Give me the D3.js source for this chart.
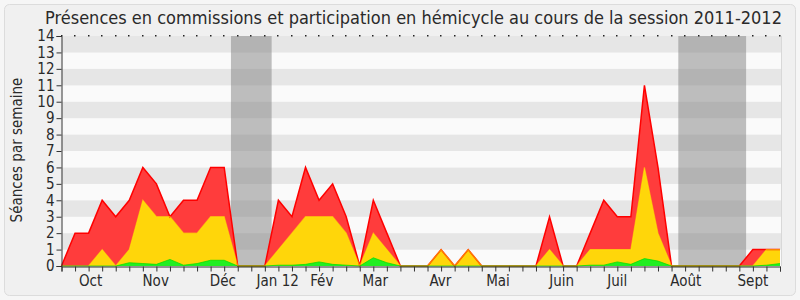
<!DOCTYPE html>
<html><head><meta charset="utf-8">
<script src="https://cdn.jsdelivr.net/npm/d3@7"></script>
<style>
body{margin:0;background:#fff;}
text{font-family:"DejaVu Sans Condensed","DejaVu Sans",sans-serif;fill:#2a2a2a;}
</style></head>
<body><svg id="c" width="800" height="300"></svg>
<script>
const title = "Présences en commissions et participation en hémicycle au cours de la session 2011-2012";
const yLabel = "Séances par semaine";
const weeks = d3.range(54);
const total  = [0,2,2,4,3,4,6,5,3,4,4,6,6,0,0,0,4,3,6,4,5,3,0,4,2,0,0,0,1,0,1,0,0,0,0,0,3,0,0,2,4,3,3,11,6,0,0,0,0,0,0,1,1,1];
const yellow = [0,0,0,1,0,1,4,3,3,2,2,3,3,0,0,0,1,2,3,3,3,2,0,2,1,0,0,0,1,0,1,0,0,0,0,0,1,0,0,1,1,1,1,6,2,0,0,0,0,0,0,0,1,1];
const green  = [0,0,0,0,0,0.2,0.15,0.1,0.4,0.05,0.15,0.35,0.35,0,0,0,0.05,0.05,0.1,0.25,0.1,0.05,0,0.5,0.2,0,0,0,0,0,0,0,0,0,0,0,0,0,0,0.05,0.05,0.25,0.1,0.45,0.3,0,0,0,0,0,0,0,0.05,0.15];
const monthNames = ["Oct","Nov","Déc","Jan 12","Fév","Mar","Avr","Mai","Juin","Juil","Août","Sept"];
const monthPos   = [2.15,6.95,11.9,15.95,19.2,23.15,27.95,32.2,36.9,41.0,46.05,51.0];
const vacations  = [[12.5,15.5],[45.5,50.5]];
const yTicks = d3.range(0,15);

const svg = d3.select("#c");
svg.append("rect").attr("x",0).attr("y",0).attr("width",800).attr("height",300).attr("fill","#f6f6f6");
svg.append("rect").attr("x",4.5).attr("y",4.5).attr("width",791).attr("height",291).attr("rx",5)
  .attr("fill","#f0f0f0").attr("stroke","#dcdcdc");

const x = d3.scaleLinear().domain([0,53]).range([61.5,780]);
const y = d3.scaleLinear().domain([0,14]).range([266,36]);

const g = svg.append("g");
g.selectAll("rect.s").data(d3.range(14)).enter().append("rect")
  .attr("x",x(0)).attr("width",x(53)-x(0)+1)
  .attr("y",d=>y(d+1)).attr("height",d=>y(d)-y(d+1))
  .attr("fill",d=>d%2===1?"#e6e6e6":"#fafafa");
svg.append("line").attr("x1",x(53)+1.5).attr("x2",x(53)+1.5).attr("y1",36).attr("y2",266).attr("stroke","#d8d8d8");
g.selectAll("rect.v").data(vacations).enter().append("rect")
  .attr("x",d=>x(d[0])).attr("width",d=>x(d[1])-x(d[0]))
  .attr("y",y(14)).attr("height",y(0)-y(14))
  .attr("fill","#808080").attr("fill-opacity",0.5);

const area = arr => d3.area().x((d,i)=>x(i)).y0(y(0)).y1((d)=>y(d))(arr);
const line = arr => d3.line().x((d,i)=>x(i)).y(d=>y(d))(arr);
svg.append("path").attr("d",area(total)).attr("fill","#ff3c3c");
svg.append("path").attr("d",area(yellow)).attr("fill","#ffd60a");
svg.append("path").attr("d",area(green)).attr("fill","#22ee22");
svg.append("path").attr("d",line(total)).attr("fill","none").attr("stroke","#ff0000").attr("stroke-width",1.5);
svg.append("path").attr("d",line(yellow)).attr("fill","none").attr("stroke","#ffee00").attr("stroke-width",1.2).attr("stroke-opacity",0.55);
svg.append("path").attr("d",line(green)).attr("fill","none").attr("stroke","#00dd00").attr("stroke-width",1).attr("stroke-opacity",0.7);

svg.selectAll("rect.dot").data(weeks).enter().append("rect")
  .attr("x",d=>Math.round(x(d))-1).attr("y",35).attr("width",1.5).attr("height",1.5).attr("fill","#222");

const yAxis = d3.axisLeft(y).tickValues(yTicks).tickSize(5).tickPadding(2).tickFormat(d3.format("d"));
const ya = svg.append("g").attr("transform","translate(61.5,0)").call(yAxis);
ya.select(".domain").attr("stroke","#333");
ya.selectAll(".tick line").attr("stroke","#333");
ya.selectAll("text").style("font-size","15px").attr("fill","#2a2a2a");

const xAxis = d3.axisBottom(x).tickValues(weeks).tickSize(5).tickFormat("");
const xa = svg.append("g").attr("transform","translate(0,266.5)").call(xAxis);
xa.select(".domain").attr("stroke","#333");
xa.selectAll(".tick line").attr("stroke","#333");

svg.selectAll("text.m").data(monthNames).enter().append("text")
  .attr("x",(d,i)=>x(monthPos[i])).attr("y",286).attr("text-anchor","middle")
  .style("font-size","15px").text(d=>d);

svg.append("text").attr("x",413.5).attr("y",24).attr("text-anchor","middle")
  .style("font-size","18px").text(title);
svg.append("text").attr("transform","translate(22,150) rotate(-90)").attr("text-anchor","middle")
  .style("font-size","15px").text(yLabel);
</script></body></html>
